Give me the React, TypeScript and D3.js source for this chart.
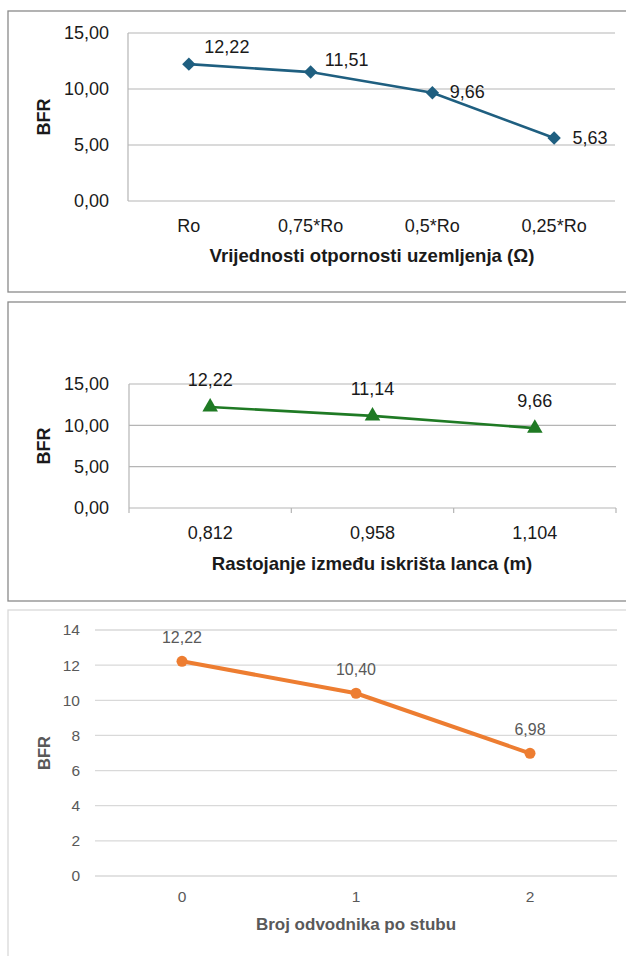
import React from "react";
import * as d3 from "d3";

// ---------- data ----------
const c1Categories = ["Ro", "0,75*Ro", "0,5*Ro", "0,25*Ro"];
const c1Values = [12.22, 11.51, 9.66, 5.63];
const c1Ticks = [0, 5, 10, 15];
const c1XTitle = "Vrijednosti otpornosti uzemljenja (Ω)";

const c2Categories = ["0,812", "0,958", "1,104"];
const c2Values = [12.22, 11.14, 9.66];
const c2Ticks = [0, 5, 10, 15];
const c2XTitle = "Rastojanje između iskrišta lanca (m)";

const c3Categories = ["0", "1", "2"];
const c3Values = [12.22, 10.4, 6.98];
const c3Ticks = [0, 2, 4, 6, 8, 10, 12, 14];
const c3XTitle = "Broj odvodnika po stubu";

const yTitle = "BFR";

// label offsets (style) for chart 1 labels
const c1LabelOffsets = [
  [38, -17],
  [36, -12],
  [35, -1],
  [36, 0],
];

const fmt2 = (v: number) => d3.format(".2f")(v).replace(".", ",");
const FONT = "'Liberation Sans', Arial, sans-serif";

export default function App() {
  // chart 1
  const x1 = d3.scaleBand<string>().domain(c1Categories).range([128, 615]);
  const y1 = d3.scaleLinear().domain([0, 15]).range([201, 33]);
  const line1 = d3
    .line<number>()
    .x((_, i) => x1(c1Categories[i])! + x1.bandwidth() / 2)
    .y((d) => y1(d));

  // chart 2
  const x2 = d3.scaleBand<string>().domain(c2Categories).range([129, 616]);
  const y2 = d3.scaleLinear().domain([0, 15]).range([508, 384]);
  const line2 = d3
    .line<number>()
    .x((_, i) => x2(c2Categories[i])! + x2.bandwidth() / 2)
    .y((d) => y2(d));

  // chart 3
  const x3 = d3.scaleBand<string>().domain(c3Categories).range([95, 617]);
  const y3 = d3.scaleLinear().domain([0, 14]).range([876, 630]);
  const line3 = d3
    .line<number>()
    .x((_, i) => x3(c3Categories[i])! + x3.bandwidth() / 2)
    .y((d) => y3(d));

  const diamond = d3.symbol().type(d3.symbolDiamond2).size(115)();
  const triangle = d3.symbol().type(d3.symbolTriangle).size(105)();

  const dark = "#1a1a1a";
  const grey3 = "#595959";

  return (
    <svg
      width={626}
      height={956}
      style={{ position: "absolute", left: 0, top: 0, background: "#fff" }}
      fontFamily={FONT}
    >
      <rect x={0} y={0} width={626} height={956} fill="#fff" />

      {/* ---------- Chart 1 ---------- */}
      <rect x={8} y={11} width={630} height={281} fill="none" stroke="#8a8a8a" strokeWidth={1.3} />
      {c1Ticks.map((t) => (
        <g key={"g1" + t}>
          <line x1={128} x2={615} y1={y1(t)} y2={y1(t)} stroke="#b5b5b5" strokeWidth={1.2} />
          <text x={109} y={y1(t)} dy="0.35em" textAnchor="end" fontSize={18} fill={dark}>
            {fmt2(t)}
          </text>
        </g>
      ))}
      <line x1={128} x2={128} y1={y1(15)} y2={y1(0)} stroke="#b5b5b5" strokeWidth={1.2} />
      {c1Categories.map((c) => (
        <text key={"x1" + c} x={x1(c)! + x1.bandwidth() / 2} y={226} dy="0.35em" textAnchor="middle" fontSize={18} fill={dark}>
          {c}
        </text>
      ))}
      <text x={372} y={255} dy="0.35em" textAnchor="middle" fontSize={18.6} fontWeight="bold" fill={dark}>
        {c1XTitle}
      </text>
      <text transform={`translate(44,117) rotate(-90)`} dy="0.35em" textAnchor="middle" fontSize={18} fontWeight="bold" fill={dark}>
        {yTitle}
      </text>
      <path d={line1(c1Values)!} fill="none" stroke="#1f5f80" strokeWidth={2.6} />
      {c1Values.map((v, i) => {
        const cx = x1(c1Categories[i])! + x1.bandwidth() / 2;
        const cy = y1(v);
        return (
          <g key={"p1" + i}>
            <path d={diamond!} transform={`translate(${cx},${cy})`} fill="#1f5f80" />
            <text x={cx + c1LabelOffsets[i][0]} y={cy + c1LabelOffsets[i][1]} dy="0.35em" textAnchor="middle" fontSize={18} fill={dark}>
              {fmt2(v)}
            </text>
          </g>
        );
      })}

      {/* ---------- Chart 2 ---------- */}
      <rect x={8} y={302} width={630} height={299} fill="none" stroke="#8a8a8a" strokeWidth={1.3} />
      {c2Ticks.map((t) => (
        <g key={"g2" + t}>
          <line x1={129} x2={616} y1={y2(t)} y2={y2(t)} stroke="#b5b5b5" strokeWidth={1.2} />
          <text x={109} y={y2(t)} dy="0.35em" textAnchor="end" fontSize={18} fill={dark}>
            {fmt2(t)}
          </text>
        </g>
      ))}
      <line x1={129} x2={129} y1={y2(15)} y2={y2(0) + 5} stroke="#b5b5b5" strokeWidth={1.2} />
      {c2Categories.map((c) => (
        <line key={"tk2" + c} x1={x2(c)! + x2.bandwidth()} x2={x2(c)! + x2.bandwidth()} y1={y2(0)} y2={y2(0) + 5} stroke="#b5b5b5" strokeWidth={1.2} />
      ))}
      {c2Categories.map((c) => (
        <text key={"x2" + c} x={x2(c)! + x2.bandwidth() / 2} y={533} dy="0.35em" textAnchor="middle" fontSize={18} fill={dark}>
          {c}
        </text>
      ))}
      <text x={372} y={563} dy="0.35em" textAnchor="middle" fontSize={18.6} fontWeight="bold" fill={dark}>
        {c2XTitle}
      </text>
      <text transform={`translate(44,446) rotate(-90)`} dy="0.35em" textAnchor="middle" fontSize={18} fontWeight="bold" fill={dark}>
        {yTitle}
      </text>
      <path d={line2(c2Values)!} fill="none" stroke="#1f7a24" strokeWidth={2.6} />
      {c2Values.map((v, i) => {
        const cx = x2(c2Categories[i])! + x2.bandwidth() / 2;
        const cy = y2(v);
        return (
          <g key={"p2" + i}>
            <path d={triangle!} transform={`translate(${cx},${cy})`} fill="#1f7a24" />
            <text x={cx} y={cy - 27} dy="0.35em" textAnchor="middle" fontSize={18} fill={dark}>
              {fmt2(v)}
            </text>
          </g>
        );
      })}

      {/* ---------- Chart 3 ---------- */}
      <rect x={8} y={610} width={630} height={360} fill="none" stroke="#d9d9d9" strokeWidth={1.3} />
      {c3Ticks.map((t) => (
        <g key={"g3" + t}>
          <line x1={95} x2={617} y1={y3(t)} y2={y3(t)} stroke="#d9d9d9" strokeWidth={1.3} />
          <text x={80} y={y3(t)} dy="0.35em" textAnchor="end" fontSize={15.5} fill={grey3}>
            {t}
          </text>
        </g>
      ))}
      {c3Categories.map((c) => (
        <text key={"x3" + c} x={x3(c)! + x3.bandwidth() / 2} y={897} dy="0.35em" textAnchor="middle" fontSize={15.5} fill={grey3}>
          {c}
        </text>
      ))}
      <text x={356} y={924} dy="0.35em" textAnchor="middle" fontSize={17} fontWeight="bold" fill={grey3}>
        {c3XTitle}
      </text>
      <text transform={`translate(44,753) rotate(-90)`} dy="0.35em" textAnchor="middle" fontSize={16.5} fontWeight="bold" fill={grey3}>
        {yTitle}
      </text>
      <path d={line3(c3Values)!} fill="none" stroke="#ed7d31" strokeWidth={4} strokeLinejoin="round" />
      {c3Values.map((v, i) => {
        const cx = x3(c3Categories[i])! + x3.bandwidth() / 2;
        const cy = y3(v);
        return (
          <g key={"p3" + i}>
            <circle cx={cx} cy={cy} r={5.5} fill="#ed7d31" />
            <text x={cx} y={cy - 24} dy="0.35em" textAnchor="middle" fontSize={16} fill={grey3}>
              {fmt2(v)}
            </text>
          </g>
        );
      })}
    </svg>
  );
}
